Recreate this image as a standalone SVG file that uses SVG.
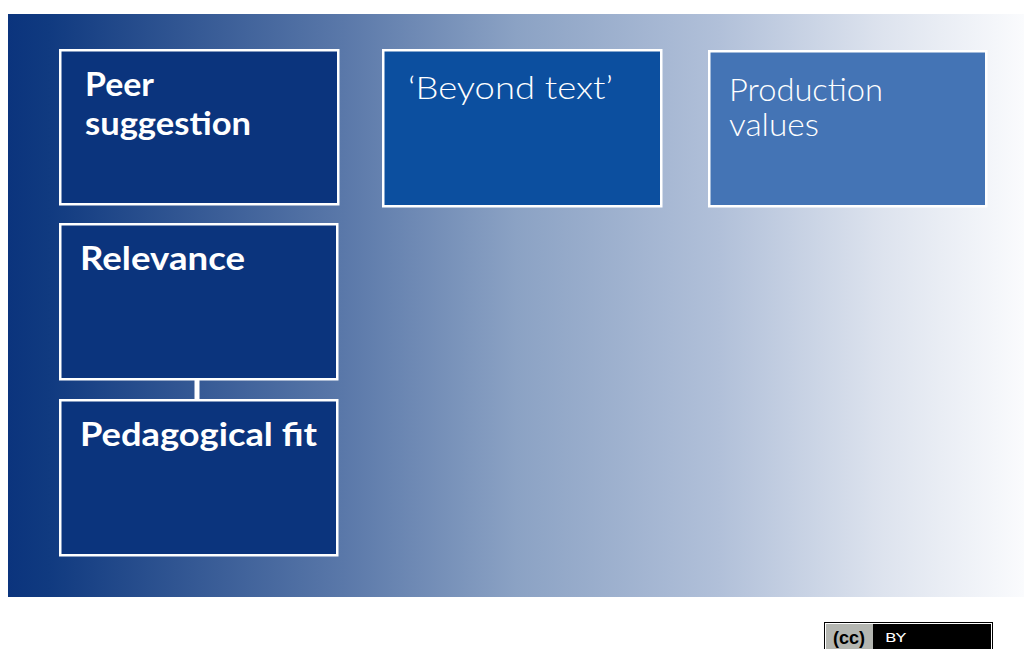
<svg xmlns="http://www.w3.org/2000/svg" width="1024" height="649" viewBox="0 0 1024 649">
<style>
.box{stroke:#fff;stroke-width:2.5}
.dark{fill:#0b347d}
.b{font-family:"Lato","Liberation Sans",sans-serif;font-weight:700;font-size:32px;fill:#fff}
.l{font-family:"Lato","Liberation Sans",sans-serif;font-weight:300;font-size:32px;fill:#fff}
</style>
<defs><linearGradient id="bg" x1="0" y1="0" x2="1" y2="0">
<stop offset="0" stop-color="#0b347d"/><stop offset="0.04" stop-color="#103a80"/><stop offset="0.33" stop-color="#5a78a9"/><stop offset="0.5" stop-color="#8ba2c4"/><stop offset="0.7" stop-color="#b1c0d9"/><stop offset="0.86" stop-color="#dde3ee"/><stop offset="1" stop-color="#fafbfd"/>
</linearGradient></defs>
<rect width="1024" height="649" fill="#fff"/>
<rect id="background" x="8" y="14" width="1016" height="583" fill="url(#bg)"/>
<g id="connectors"><line x1="197" y1="379" x2="197" y2="401" stroke="#fff" stroke-width="5"/></g>
<g id="peer-suggestion"><rect class="box dark" x="60.250" y="50.250" width="278" height="154"/>
<text class="b" x="85" y="96" textLength="69" lengthAdjust="spacingAndGlyphs">Peer</text>
<text class="b" x="85" y="135" textLength="166" lengthAdjust="spacingAndGlyphs">suggestion</text></g>
<g id="beyond-text"><rect x="383.250" y="50.250" width="278" height="156" class="box" fill="#0c4f9f"/>
<text class="l" x="408" y="99" textLength="205" lengthAdjust="spacingAndGlyphs">‘Beyond text’</text></g>
<g id="production-values"><rect x="709.250" y="51.250" width="277" height="155" class="box" fill="#4474b5"/>
<text class="l" x="729" y="101" textLength="154" lengthAdjust="spacingAndGlyphs">Production</text>
<text class="l" x="729" y="136" textLength="90" lengthAdjust="spacingAndGlyphs">values</text></g>
<g id="relevance"><rect class="box dark" x="60.250" y="224.250" width="277" height="155"/>
<text class="b" x="80" y="270" textLength="165" lengthAdjust="spacingAndGlyphs">Relevance</text></g>
<g id="pedagogical-fit"><rect class="box dark" x="60.250" y="400.250" width="277" height="155"/>
<text class="b" x="80" y="446" textLength="237" lengthAdjust="spacingAndGlyphs">Pedagogical fit</text></g>
<g id="cc-badge">
<rect x="824.500" y="622.500" width="168" height="30" fill="#fff" stroke="#000"/>
<rect x="826" y="624" width="165" height="27" fill="#000"/>
<rect x="826" y="624" width="47" height="27" fill="#b4b6b1"/>
<text x="849" y="644" text-anchor="middle" font-family="'Liberation Sans',sans-serif" font-weight="700" font-size="18" fill="#000">(cc)</text>
<text x="885" y="642" font-family="'DejaVu Sans',sans-serif" font-size="12" fill="#fff" textLength="21" lengthAdjust="spacingAndGlyphs">BY</text>
</g>
</svg>
